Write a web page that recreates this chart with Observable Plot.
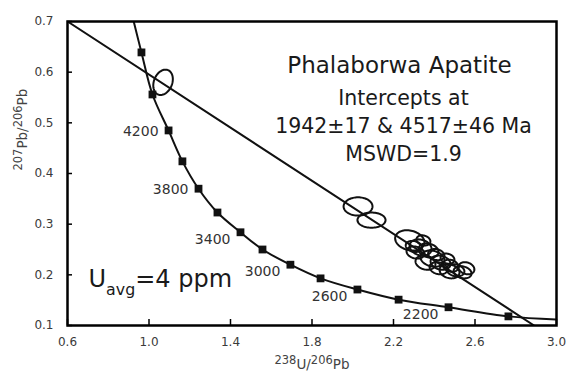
<!DOCTYPE html>
<html><head><meta charset="utf-8">
<script src="https://cdn.jsdelivr.net/npm/d3@7"></script>
<script src="https://cdn.jsdelivr.net/npm/@observablehq/plot@0.6"></script>
<style>html,body{margin:0;padding:0;background:#fff}#chart svg{display:block}</style>
</head><body><div id="chart"></div>
<script>
// Concordia markers (every 200 Ma)
const markerAge = [4600,4400,4200,4000,3800,3600,3400,3200,3000,2800,2600,2400,2200,2000];
const markerX = [0.963,1.017,1.096,1.164,1.243,1.336,1.449,1.557,1.694,1.842,2.023,2.225,2.470,2.764];
const markerY = [0.639,0.556,0.485,0.424,0.370,0.323,0.284,0.250,0.220,0.193,0.171,0.151,0.136,0.118];
// where the concordia leaves the frame
const concordiaEndX = [0.925, 3.0];
const concordiaEndY = [0.700, 0.112];
const labelAges = [4200,3800,3400,3000,2600,2200];
// discordia
const discordiaX = [0.6, 2.89];
const discordiaY = [0.7, 0.1];
// error ellipses: centre, semi-axes, correlation
const ellipseX  = [1.069,2.026,2.092,2.280,2.333,2.372,2.308,2.391,2.357,2.431,2.421,2.480,2.504,2.539,2.465,2.347,2.475,2.558,2.300,2.410];
const ellipseY  = [0.580,0.335,0.308,0.268,0.254,0.248,0.244,0.232,0.224,0.224,0.213,0.218,0.209,0.205,0.232,0.268,0.207,0.213,0.256,0.240];
const ellipseRX = [0.048,0.071,0.069,0.072,0.054,0.049,0.044,0.059,0.049,0.049,0.044,0.039,0.044,0.044,0.034,0.034,0.049,0.039,0.040,0.040];
const ellipseRY = [0.025,0.018,0.015,0.020,0.016,0.014,0.012,0.016,0.014,0.014,0.012,0.012,0.012,0.012,0.010,0.010,0.014,0.012,0.011,0.011];
const ellipseRho= [0.25,0,0,-0.2,-0.2,-0.2,-0.2,-0.2,-0.2,-0.2,-0.2,-0.2,-0.2,-0.2,-0.2,-0.2,-0.2,-0.2,-0.2,-0.2];
const xTicks = [0.6,1.0,1.4,1.8,2.2,2.6,3.0];
const yTicks = [0.1,0.2,0.3,0.4,0.5,0.6,0.7];

const markers = markerAge.map((a,i)=>({age:a, x:markerX[i], y:markerY[i]}));
const concordia = [{x:concordiaEndX[0], y:concordiaEndY[0]}, ...markers, {x:concordiaEndX[1], y:concordiaEndY[1]}];
const discordia = discordiaX.map((x,i)=>({x, y:discordiaY[i]}));
const labelData = labelAges.map(a=>markers.find(m=>m.age===a));
const ellipsePts = [];
ellipseX.forEach((cx,i)=>{
  const rx=ellipseRX[i], ry=ellipseRY[i], r=ellipseRho[i], cy=ellipseY[i];
  for(let k=0;k<72;k++){
    const t=2*Math.PI*k/72;
    ellipsePts.push({id:i, x:cx+rx*Math.cos(t), y:cy+ry*(r*Math.cos(t)+Math.sqrt(1-r*r)*Math.sin(t))});
  }
});

const ink = "#111";
const plot = Plot.plot({
  width: 570, height: 375,
  marginLeft: 67, marginRight: 14, marginTop: 21, marginBottom: 50,
  style: {fontFamily: "DejaVu Sans", background: "#fff"},
  x: {domain: [0.6, 3.0], label: null},
  y: {domain: [0.1, 0.7], label: null},
  marks: [
    Plot.axisX(xTicks, {anchor:"bottom", tickSize:6, dy:-6, tickFormat:()=>"", strokeWidth:1.5, label:null}),
    Plot.axisX(xTicks, {anchor:"bottom", tickSize:0, tickPadding:12, tickFormat:d=>d.toFixed(1), fontSize:12, fill:"#3a3a3a", label:null}),
    Plot.axisY(yTicks, {anchor:"left", tickSize:5, dx:5, tickFormat:()=>"", strokeWidth:1.5, label:null}),
    Plot.axisY(yTicks, {anchor:"left", tickSize:0, tickPadding:14, tickFormat:d=>d.toFixed(1), fontSize:12, fill:"#3a3a3a", label:null}),
    Plot.line(discordia, {x:"x", y:"y", stroke:ink, strokeWidth:2, clip:true}),
    Plot.line(concordia, {x:"x", y:"y", stroke:ink, strokeWidth:2, curve:"catmull-rom", clip:true}),
    Plot.line(ellipsePts, {x:"x", y:"y", z:"id", curve:"linear-closed", stroke:ink, strokeWidth:2, fill:"none"}),
    Plot.dot(markers, {x:"x", y:"y", symbol:"square", r:4.4, fill:ink}),
    Plot.text(labelData.slice(0,2), {x:"x", y:"y", text:d=>String(d.age), textAnchor:"end", dx:-10, dy:1, fontSize:14, fill:"#333"}),
    Plot.text(labelData.slice(2), {x:"x", y:"y", text:d=>String(d.age), textAnchor:"end", dx:-10, dy:7, fontSize:14, fill:"#333"}),
    Plot.text(["Phalaborwa Apatite"], {text:d=>d, frameAnchor:"top", dx:87.5, dy:35.6, fontSize:23, fill:"#1a1a1a"}),
    Plot.text(["Intercepts at\n1942±17 & 4517±46 Ma\nMSWD=1.9"], {text:d=>d, frameAnchor:"top", dx:91.5, dy:63.4, lineAnchor:"top", lineHeight:1.366, fontSize:20.5, fill:"#1a1a1a"}),
    Plot.text(["U_{avg}=4 ppm"], {text:d=>d, frameAnchor:"bottom-left", textAnchor:"start", dx:21, dy:-38.7, fontSize:24, fill:"#1a1a1a"}),
    Plot.text(["^{238}U/^{206}Pb"], {text:d=>d, frameAnchor:"bottom", dy:43, fontSize:13.5, fill:"#444"}),
    Plot.text(["^{207}Pb/^{206}Pb"], {text:d=>d, frameAnchor:"left", dx:-45, dy:-3, rotate:-90, fontSize:13.5, fill:"#444"}),
    Plot.frame({stroke:"black", strokeWidth:2.5})
  ]
});
document.getElementById("chart").appendChild(plot);

// turn ^{..} / _{..} markup into real super/subscript tspans
const NS = "http://www.w3.org/2000/svg";
plot.querySelectorAll("text").forEach(t=>{
  const s = t.textContent;
  if(!/[\^_]\{/.test(s)) return;
  const fs = parseFloat(getComputedStyle(t).fontSize) || 12;
  const tokens = s.match(/\^\{[^}]*\}|_\{[^}]*\}|[^\^_]+/g);
  while(t.firstChild) t.removeChild(t.firstChild);
  let cur = 0;
  tokens.forEach(tok=>{
    const sp = document.createElementNS(NS, "tspan");
    let shift = 0, size = fs, txt = tok;
    if(tok.startsWith("^{")){ txt = tok.slice(2,-1); size = fs*0.85; shift = -fs*0.33; }
    else if(tok.startsWith("_{")){ txt = tok.slice(2,-1); size = fs*0.66; shift = fs*0.36; }
    sp.setAttribute("font-size", size);
    if(shift-cur !== 0) sp.setAttribute("dy", shift-cur);
    cur = shift;
    sp.textContent = txt;
    t.appendChild(sp);
  });
});
</script>
</body></html>
